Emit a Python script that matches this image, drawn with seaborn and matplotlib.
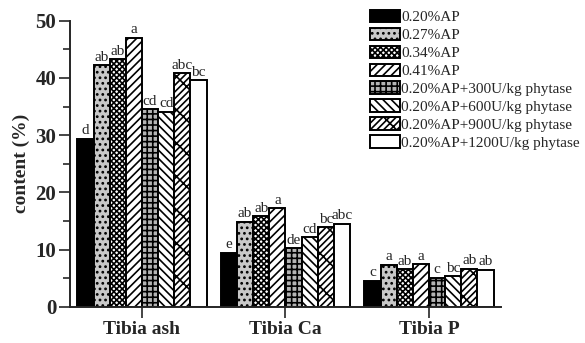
import numpy as np
import pandas as pd
import matplotlib; matplotlib.use('Agg')
import matplotlib.pyplot as plt
import seaborn as sns

# ── data ──
groups = ['0.20%AP', '0.27%AP', '0.34%AP', '0.41%AP',
          '0.20%AP+300U/kg phytase', '0.20%AP+600U/kg phytase',
          '0.20%AP+900U/kg phytase', '0.20%AP+1200U/kg phytase']
traits = ['Tibia ash', 'Tibia Ca', 'Tibia P']

ash = [29.4, 42.2, 43.3, 47.0, 34.5, 34.1, 40.8, 39.6]
ca = [9.5, 14.9, 15.8, 17.2, 10.3, 12.2, 13.9, 14.5]
p = [4.6, 7.4, 6.6, 7.5, 5.1, 5.4, 6.7, 6.5]

ash_sig = ['d', 'ab', 'ab', 'a', 'cd', 'cd', 'abc', 'bc']
ca_sig = ['e', 'ab', 'ab', 'a', 'de', 'cd', 'bc', 'abc']
p_sig = ['c', 'a', 'ab', 'a', 'c', 'bc', 'ab', 'ab']

df = pd.DataFrame({
    'trait': np.repeat(traits, len(groups)),
    'group': groups * 3,
    'value': ash + ca + p,
    'sig': ash_sig + ca_sig + p_sig,
})

# fill / hatch per treatment
faces = ['black', '#c8c8c8', 'white', 'white', '#b4b4b4', 'white', 'white', 'white']
hatches = [None, '...', 'xxxxxx', '////', '+++', '\\\\\\\\', '/////\\', None]

sns.set_style('ticks')
plt.rcParams['font.family'] = ['Liberation Serif', 'DejaVu Serif']
plt.rcParams['hatch.linewidth'] = 1.2

fig = plt.figure(figsize=(5.85, 3.43), dpi=100)
ax = fig.add_axes([0.12, 0.105, 0.736, 0.835])

sns.barplot(data=df, x='trait', y='value', hue='group', hue_order=groups,
            order=traits, width=0.9, ax=ax, legend=False, errorbar=None,
            edgecolor='black', linewidth=1.4)

for k, cont in enumerate(ax.containers):
    for j, bar in enumerate(cont):
        bar.set_facecolor(faces[k])
        bar.set_edgecolor('black')
        if hatches[k]:
            bar.set_hatch(hatches[k])
        lab = df[(df['trait'] == traits[j]) & (df['group'] == groups[k])]['sig'].iloc[0]
        ax.text(bar.get_x() + bar.get_width() / 2, bar.get_height() + 0.25, lab,
                ha='center', va='bottom', fontsize=11)

ax.set_xlim(-0.5, 2.5)
ax.set_ylim(0, 50)
ax.set_yticks(np.arange(0, 51, 10))
ax.set_yticks(np.arange(5, 50, 10), minor=True)
ax.tick_params(axis='y', which='major', length=8, width=1.2, labelsize=15, pad=2)
ax.tick_params(axis='y', which='minor', length=5, width=1.2)
ax.tick_params(axis='x', length=8, width=1.2, labelsize=14, pad=2)
for t in ax.get_yticklabels() + ax.get_xticklabels():
    t.set_fontweight('bold')
ax.set_xlabel('')
ax.set_ylabel('content (%)', fontsize=14, fontweight='bold', labelpad=4)
sns.despine(ax=ax)
for s in ['left', 'bottom']:
    ax.spines[s].set_linewidth(1.4)

ax.legend(ax.containers, groups, loc='upper left', bbox_to_anchor=(0.632, 0.972),
          bbox_transform=fig.transFigure, frameon=False, fontsize=11,
          handlelength=1.95, handleheight=0.9, handletextpad=0.12,
          labelspacing=0.22, borderpad=0, borderaxespad=0)

plt.savefig('out.png', dpi=100)
plt.close()
